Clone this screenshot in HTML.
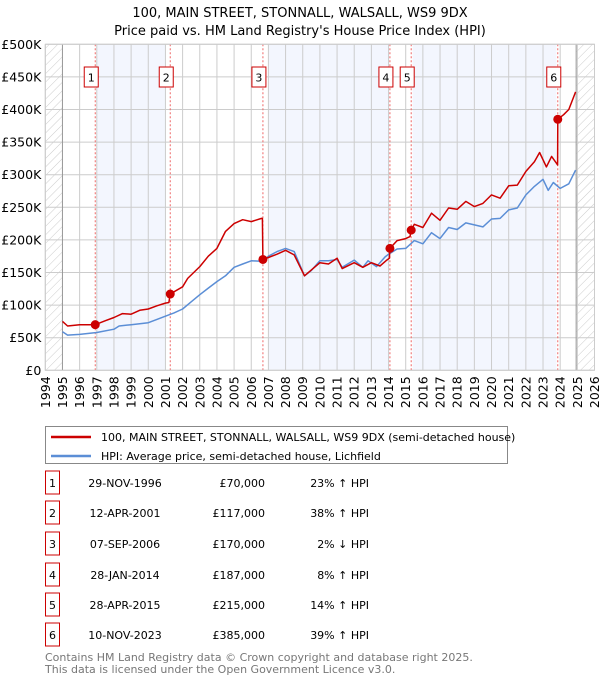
<!DOCTYPE html>
<html><head><meta charset="utf-8">
<style>
body{margin:0;background:#fff;font-family:"DejaVu Sans","Liberation Sans",sans-serif;}
svg text{font-family:"DejaVu Sans","Liberation Sans",sans-serif;}
</style></head>
<body>
<svg id="chart" width="600" height="680" xmlns="http://www.w3.org/2000/svg">
<defs>
<pattern id="hatch" width="6" height="6" patternUnits="userSpaceOnUse" patternTransform="rotate(45)">
<line x1="0" y1="0" x2="0" y2="6" stroke="#ccc" stroke-width="1"/>
</pattern>
</defs>
<text x="300" y="17" text-anchor="middle" font-size="13" fill="#000">100, MAIN STREET, STONNALL, WALSALL, WS9 9DX</text>
<text x="300" y="35" text-anchor="middle" font-size="13" fill="#000">Price paid vs. HM Land Registry's House Price Index (HPI)</text>
<g id="plot"></g>
<g id="legend">
<rect x="45.5" y="426.5" width="462" height="37" fill="#fff" stroke="#888"/>
<line x1="51" y1="437" x2="91" y2="437" stroke="#cc0000" stroke-width="2.5"/>
<text x="101" y="441" font-size="11">100, MAIN STREET, STONNALL, WALSALL, WS9 9DX (semi-detached house)</text>
<line x1="51" y1="456" x2="91" y2="456" stroke="#5b8ed6" stroke-width="2.5"/>
<text x="101" y="460" font-size="11">HPI: Average price, semi-detached house, Lichfield</text>
</g>
<g id="table"></g>
<text x="45" y="661" font-size="11" fill="#777">Contains HM Land Registry data © Crown copyright and database right 2025.</text>
<text x="45" y="673" font-size="11" fill="#777">This data is licensed under the Open Government Licence v3.0.</text>
</svg>
<script>
const hpiYears=[1995,1995.3,1996,1997,1998,1998.3,1999,2000,2000.5,2001,2001.5,2002,2002.5,2003,2003.5,2004,2004.5,2005,2005.5,2006,2006.7,2007,2007.5,2008,2008.5,2009.1,2009.5,2010,2010.5,2011,2011.3,2012,2012.5,2012.8,2013.3,2013.8,2014,2014.5,2015,2015.5,2016,2016.5,2017,2017.5,2018,2018.5,2019,2019.5,2020,2020.5,2021,2021.5,2022,2022.5,2023,2023.3,2023.6,2024,2024.5,2024.9];
const hpiValues=[59,54,55,58,63,68,70,73,78,83,88,94,105,116,126,136,145,158,163,168,167,175,182,187,182,145,153,168,168,170,158,169,158,168,159,174,178,186,187,199,194,211,202,219,216,226,223,220,232,233,246,249,269,282,293,276,288,279,286,307];
const priceYears=[1995,1995.3,1996,1996.91,1997.5,1998,1998.5,1999,1999.5,2000,2000.5,2001,2001.2,2001.28,2002,2002.3,2003,2003.5,2004,2004.5,2005,2005.5,2006,2006.6,2006.65,2006.68,2007,2007.5,2008,2008.5,2009.1,2010,2010.5,2011,2011.3,2012,2012.5,2013,2013.5,2013.9,2014.05,2014.08,2014.5,2015,2015.25,2015.32,2015.5,2016,2016.5,2017,2017.5,2018,2018.5,2019,2019.5,2020,2020.5,2021,2021.5,2022,2022.5,2022.8,2023.2,2023.5,2023.8,2023.85,2023.86,2024.2,2024.5,2024.9];
const priceValues=[75,68,70,70,76,81,87,86,92,94,99,103,104,117,128,141,159,175,187,213,225,231,228,233,233,170,173,178,184,177,145,165,163,172,156,165,158,165,160,169,172,187,199,202,205,215,224,219,241,230,249,247,259,251,256,269,264,283,284,305,320,334,312,328,317,315,385,392,400,427];
const saleYears=[1996.91,2001.28,2006.68,2014.08,2015.32,2023.86];
const saleValues=[70,117,170,187,215,385];
const saleLabels=["1","2","3","4","5","6"];
const saleDates=["29-NOV-1996","12-APR-2001","07-SEP-2006","28-JAN-2014","28-APR-2015","10-NOV-2023"];
const salePrices=["£70,000","£117,000","£170,000","£187,000","£215,000","£385,000"];
const saleHpi=["23% ↑ HPI","38% ↑ HPI","2% ↓ HPI","8% ↑ HPI","14% ↑ HPI","39% ↑ HPI"];
const yTicks=[0,50,100,150,200,250,300,350,400,450,500];
const yTickLabels=["£0","£50K","£100K","£150K","£200K","£250K","£300K","£350K","£400K","£450K","£500K"];
const xTicks=[1994,1995,1996,1997,1998,1999,2000,2001,2002,2003,2004,2005,2006,2007,2008,2009,2010,2011,2012,2013,2014,2015,2016,2017,2018,2019,2020,2021,2022,2023,2024,2025,2026];
const bandStarts=[1997.0,2007.0,2015.4];
const bandEnds=[2001.0,2014.0,2023.78];

const X0=45.3,X1=594.5,Y0=370.3,Y1=44.3;
const xs=y=>X0+(y-1994)/(2026-1994)*(X1-X0);
const ys=v=>Y0-v/500*(Y0-Y1);
const NS="http://www.w3.org/2000/svg";
const plot=document.getElementById('plot');
function mk(tag,attrs,parent){const e=document.createElementNS(NS,tag);for(const k in attrs)e.setAttribute(k,attrs[k]);(parent||plot).appendChild(e);return e;}

bandStarts.forEach((s,i)=>{
  const r=mk('rect',{x:xs(s),y:Y1,width:xs(bandEnds[i])-xs(s),height:Y0-Y1,fill:'#f3f6fe'});
  
  
});
const h1=mk('rect',{x:X0,y:Y1,width:xs(1995)-X0,height:Y0-Y1,fill:'url(#hatch)'});


const h2=mk('rect',{x:xs(2024.93),y:Y1,width:X1-xs(2024.93),height:Y0-Y1,fill:'url(#hatch)'});


yTicks.forEach((t,i)=>{
  const g=mk('line',{x1:X0,x2:X1,y1:ys(t),y2:ys(t),stroke:'#ccc','stroke-width':1});
  
  
  const tx=mk('text',{x:X0-4,y:ys(t)+4.5,'text-anchor':'end','font-size':12.5,fill:'#000'});
  tx.textContent=yTickLabels[i];
  
  
});
xTicks.forEach(t=>{
  const g=mk('line',{x1:xs(t),x2:xs(t),y1:Y1,y2:Y0,stroke:'#ccc','stroke-width':1});
  
  
  const tx=mk('text',{x:0,y:0,'text-anchor':'end','font-size':12.5,fill:'#000',transform:`translate(${xs(t)+4.5},${Y0+6}) rotate(-90)`});
  tx.textContent=t;
  
  
});
[1995,2024.93].forEach(y=>{const l=mk('line',{x1:xs(y),x2:xs(y),y1:Y1,y2:Y0,stroke:'#999','stroke-width':1});
  
  });
saleYears.forEach((y,i)=>{
  const l=mk('line',{x1:xs(y),x2:xs(y),y1:Y1,y2:Y0,stroke:'#e66','stroke-width':1,'stroke-dasharray':'2,2'});
  
  
  const cx=xs(y)-4;
  const b=mk('rect',{x:cx-7,y:67,width:14,height:20,fill:'#fff',stroke:'#c00','stroke-width':1});
  
  
  const t=mk('text',{x:cx,y:81.5,'text-anchor':'middle','font-size':11});
  t.textContent=saleLabels[i];
  
  
});
const pts=(a,b)=>a.map((y,i)=>xs(y).toFixed(1)+','+ys(b[i]).toFixed(1)).join(' ');
const hl=mk('polyline',{points:pts(hpiYears,hpiValues),fill:'none',stroke:'#5b8ed6','stroke-width':1.5,'stroke-linejoin':'round'});


const pl=mk('polyline',{points:pts(priceYears,priceValues),fill:'none',stroke:'#cc0000','stroke-width':1.5,'stroke-linejoin':'round'});


saleYears.forEach((y,i)=>{
  const c=mk('circle',{cx:xs(y),cy:ys(saleValues[i]),r:4.5,fill:'#cc0000'});
  
  
});
const fr=mk('rect',{x:X0,y:Y1,width:X1-X0,height:Y0-Y1,fill:'none',stroke:'#ccc'});


const tb=document.getElementById('table');
const rowY=[483,513,544,575,605,635];
saleLabels.forEach((lab,i)=>{
  const y=rowY[i];
  const b=mk('rect',{x:45.5,y:y-12,width:14,height:23,fill:'#fff',stroke:'#c00'},tb);
  
  
  const cells=[[lab,52.5,'middle'],[saleDates[i],125,'middle'],[salePrices[i],265,'end'],[saleHpi[i],369,'end']];
  cells.forEach(c=>{
    const t=mk('text',{x:c[1],y:y+4,'text-anchor':c[2],'font-size':11},tb);
    t.textContent=c[0];
    
    
  });
});
</script>
</body></html>
